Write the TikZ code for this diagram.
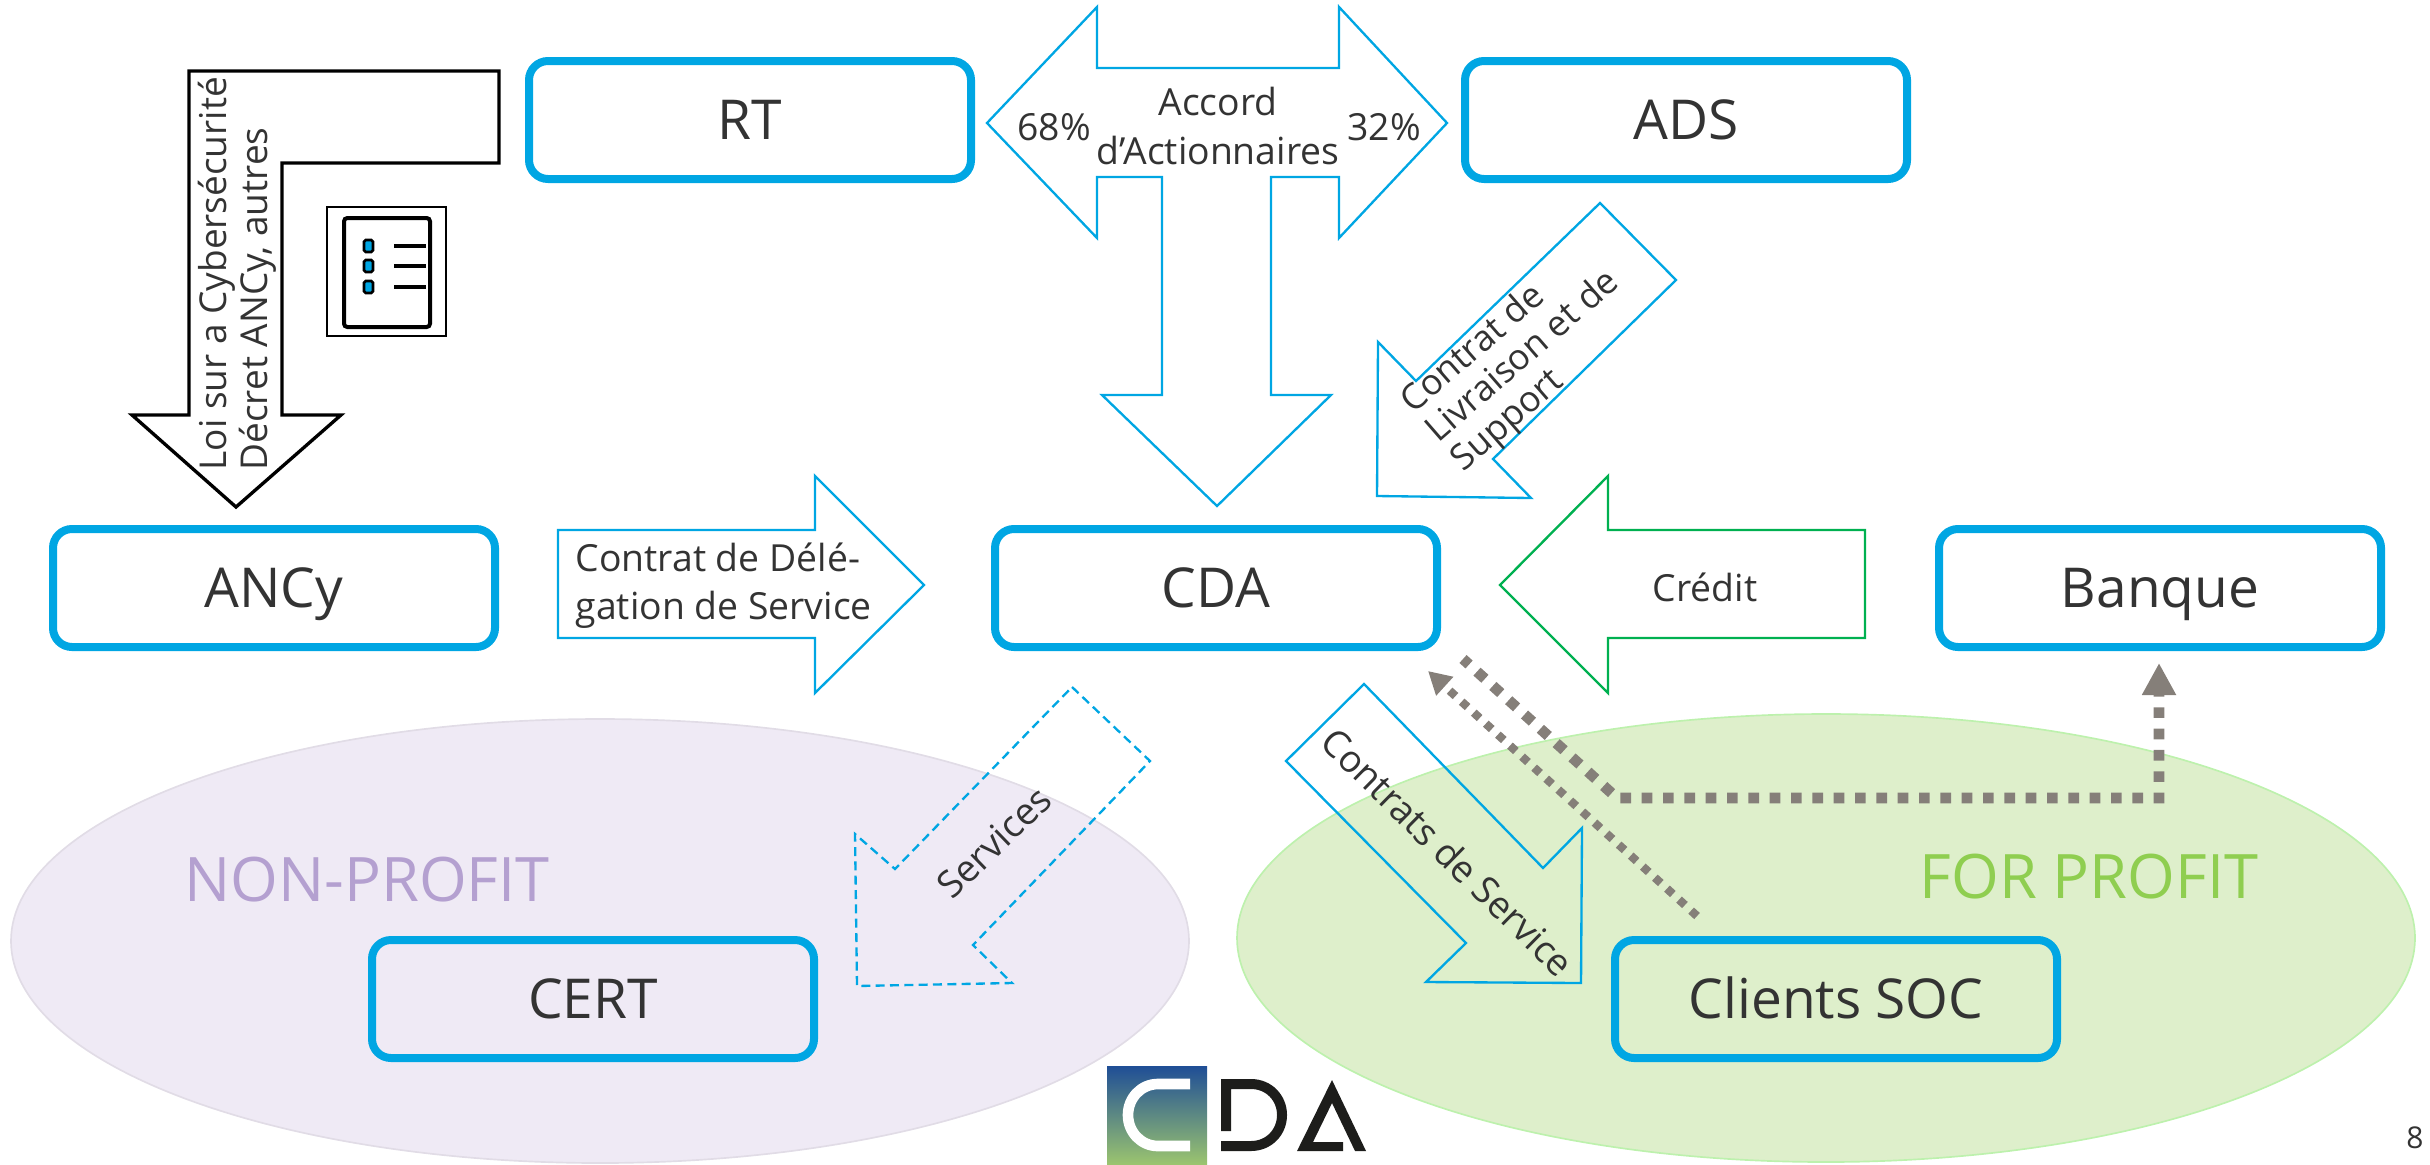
\documentclass[tikz,border=0pt]{standalone}
\usepackage{fontspec}
\setmainfont{Open Sans}
\usetikzlibrary{arrows.meta}
\definecolor{c1}{RGB}{0,166,227}
\definecolor{c2}{RGB}{0,176,80}
\definecolor{c3}{RGB}{133,127,121}
\definecolor{c4}{RGB}{51,51,51}
\definecolor{c5}{RGB}{239,234,245}
\definecolor{c6}{RGB}{222,239,203}
\definecolor{c7}{RGB}{29,29,27}
\definecolor{c8}{RGB}{180,160,208}
\definecolor{c9}{RGB}{143,206,80}
\definecolor{c10}{RGB}{31,78,150}
\definecolor{c11}{RGB}{155,196,111}
\tikzstyle{box}=[draw=c1,line width=2.4pt,rounded corners=5.7pt,minimum width=132.6pt,minimum height=35.4pt,text=c4,text height=11.8pt,text depth=0pt,font={\fontsize{16.5}{20}\selectfont}]
\tikzstyle{flow}=[draw=c1,line width=.7pt,line join=miter]
\tikzstyle{small}=[text=c4,font={\fontsize{11.2}{14.5}\selectfont},align=center,inner sep=0pt]
\tikzstyle{big}=[font={\fontsize{18.4}{22}\selectfont},inner sep=0pt]
\tikzstyle{money}=[draw=c3,line width=3.2pt,dash pattern=on 3.2pt off 3.2pt,dash phase=.75pt,-{Triangle[length=9.6pt,width=9.6pt]}]
\tikzstyle{claim}=[draw=c3,line width=2.5pt,dash pattern=on 2.4pt off 2.5pt,-{Triangle[length=6.8pt,width=7.2pt]}]
\begin{document}
\begin{tikzpicture}[x=.3pt,y=-.3pt]
    \useasboundingbox (0,0) rectangle (2430,1164);
    % zones
    \path[fill=c5,draw=c5!94!black,line width=.5pt] (600,941) ellipse (589 and 222);
    \path[fill=c6,draw=c6!85!green,line width=.5pt] (1826,938) ellipse (589 and 224);
    \node[big,text=c8] (nonprofit) at (367,880) {NON-PROFIT};
    \node[big,text=c9] (forprofit) at (2089,877) {FOR PROFIT};
    % entities
    \foreach \n/\p/\t in {rt/{750,120}/RT,ads/{1686,120}/ADS,ancy/{274,588}/ANCy,cda/{1216,588}/CDA,banque/{2160,588}/Banque,cert/{593,999}/CERT,soc/{1836,999}/Clients SOC}{
        \node[box] (\n) at (\p) {\t};
    }
    % arrows
    \draw[flow] (987,123) -- (1097,7) -- (1097,68) -- (1339,68) -- (1339,7) -- (1447,123) -- (1339,238) -- (1339,177) -- (1271,177) -- (1271,395) -- (1331,395) -- (1217,506) -- (1102,395) -- (1162,395) -- (1162,177) -- (1097,177) -- (1097,238) -- cycle;
    \node[small] (part) at (1054,127) {68\%};
    \node[small] (parts) at (1384,127) {32\%};
    \node[small] (accord) at (1218,126) {Accord\\d’Actionnaires};
    \draw[black,line width=1pt] (189,71) -- (499,71) -- (499,163) -- (282,163) -- (282,415) -- (341,415) -- (236,507) -- (132,415) -- (189,415) -- cycle;
    \node[small,rotate=90,align=left,anchor=west,font={\fontsize{11.1}{10.8}\selectfont}] (loi) at (237,471) {Loi sur a Cybersécurité\\Décret ANCy, autres};
    \draw[flow] (558,530) -- (815,530) -- (815,476) -- (924,585) -- (815,693) -- (815,638) -- (558,638) -- cycle;
    \node[small,anchor=west,align=left] (deleg) at (575,586) {Contrat de Délé-\\gation de Service};
    \draw[draw=c2,line width=.7pt] (1500,585) -- (1608,476) -- (1608,530) -- (1865,530) -- (1865,638) -- (1608,638) -- (1608,693) -- cycle;
    \node[small] (credit) at (1705,587) {Crédit};
    \draw[flow] (1600,203) -- (1676,280) -- (1493,459) -- (1531,498) -- (1377,496) -- (1378,342) -- (1416,381) -- cycle;
    \node[small,rotate=41,anchor=west,align=left,font={\fontsize{10.7}{11.5}\selectfont}] (livr) at (1432,437) {Contrat de\\Livraison et de\\Support};
    \draw[flow,dash pattern=on 2.7pt off 1.6pt] (1072,687) -- (1150,761) -- (973,945) -- (1012,983) -- (857,986) -- (855,834) -- (895,869) -- cycle;
    \node[small,rotate=44] (serv) at (994,842) {Services};
    \draw[flow] (1364,684) -- (1286,761) -- (1466,943) -- (1426,982) -- (1581,983) -- (1582,828) -- (1543,868) -- cycle;
    \node[small,rotate=-44.5] (contr) at (1448,852) {Contrats de Service};
    % dotted links
    \coordinate (claimstart) at (1697,916);
    \coordinate (claimend) at (1428,671);
    \draw[claim] (claimstart) -- (claimend);
    \coordinate (moneystart) at (1463,659);
    \coordinate (moneya) at (1617,798);
    \coordinate (moneyb) at (2159,798);
    \coordinate (moneyend) at (2159,663);
    \draw[money] (moneystart) -- (moneya) -- (moneyb) -- (moneyend);
    % list icon
    \draw[black,line width=.8pt] (327,207) rectangle (446,336);
    \draw[black,line width=1.2pt,rounded corners=1pt] (344,218) rectangle (430,327);
    \foreach \y in {246,266,287}{
        \draw[black,line width=1.2pt] (394,\y) -- (426,\y);
        \draw[black,fill=c1,line width=.8pt,rounded corners=.5pt] (364,\y-6) rectangle (373,\y+6);
    }
    % logo
    \shade[top color=c10,bottom color=c11] (1107,1066) rectangle (1207,1164);
    \draw[white,line width=3.2pt] (1190,1084) -- (1158,1084) .. controls (1141,1084) and (1128,1098) .. (1128,1115) .. controls (1128,1132) and (1141,1146) .. (1158,1146) -- (1190,1146);
    \draw[c7,line width=3pt] (1226,1131) -- (1226,1084) -- (1221,1084) -- (1251,1084) .. controls (1269,1084) and (1282,1098) .. (1282,1115) .. controls (1282,1132) and (1269,1146) .. (1251,1146) -- (1221,1146);
    \fill[c7] (1332,1080) -- (1366,1151) -- (1355,1151) -- (1332,1103) -- (1313,1142) -- (1343,1142) -- (1343,1151) -- (1297,1151) -- cycle;
    \node[text=c4,font={\fontsize{9}{11}\selectfont},inner sep=0pt] (page) at (2415,1138) {8};
\end{tikzpicture}
\end{document}
